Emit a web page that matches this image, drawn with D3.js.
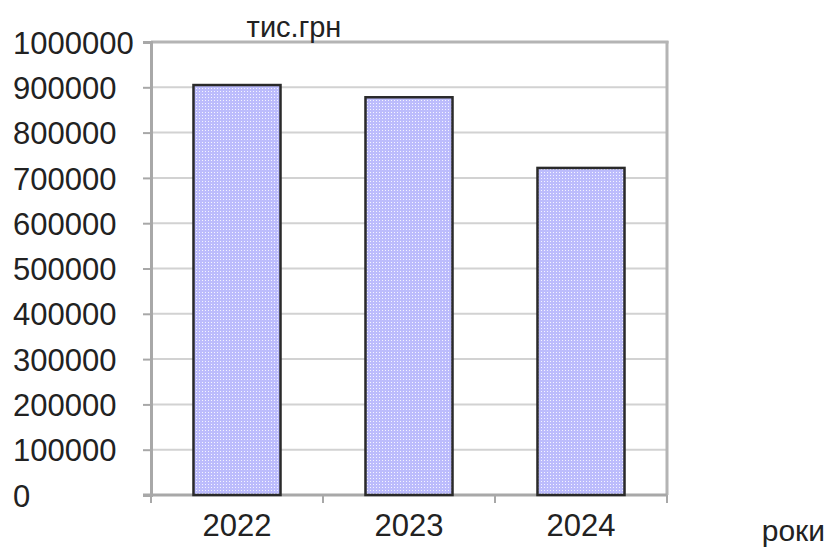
<!DOCTYPE html>
<html>
<head>
<meta charset="utf-8">
<script src="https://cdn.jsdelivr.net/npm/d3@7"></script>
<style>
  html, body { margin: 0; padding: 0; background: #fff; }
  svg { display: block; }
  text { font-family: "Liberation Sans", Arial, sans-serif; fill: #222; }
</style>
</head>
<body>
<svg id="chart" width="827" height="547"></svg>
<script>
// Annual totals, thousand UAH
const years = ["2022", "2023", "2024"];
const totals = [905000, 878000, 722000];
const yTicks = [0, 100000, 200000, 300000, 400000, 500000, 600000, 700000, 800000, 900000, 1000000];
const yUnit = "тис.грн";
const xUnit = "роки";

const svg = d3.select("#chart");
const plotL = 151, plotR = 667, plotT = 42, plotB = 495;

// dotted fill for the bars
const defs = svg.append("defs");
const pat = defs.append("pattern")
  .attr("id", "dots").attr("patternUnits", "userSpaceOnUse")
  .attr("width", 3).attr("height", 3);
pat.append("rect").attr("width", 3).attr("height", 3).attr("fill", "#bcbcfc");
pat.append("rect").attr("x", 1).attr("y", 1).attr("width", 1).attr("height", 1).attr("fill", "#f4f4ff");

const x = d3.scaleBand().domain(years).range([plotL, plotR]).paddingInner(0.494).paddingOuter(0.247);
const y = d3.scaleLinear().domain([0, 1000000]).range([plotB, plotT]);

// horizontal grid
svg.append("g").selectAll("line").data(yTicks.filter(d => d > 0)).join("line")
  .attr("x1", plotL).attr("x2", plotR)
  .attr("y1", d => y(d)).attr("y2", d => y(d))
  .attr("stroke", "#d2d2d2").attr("stroke-width", 2);

// top and right border
svg.append("line").attr("x1", plotR).attr("x2", plotR).attr("y1", plotT - 1).attr("y2", plotB)
  .attr("stroke", "#b4b4b4").attr("stroke-width", 3);
svg.append("line").attr("x1", plotL).attr("x2", plotR + 1.5).attr("y1", plotT).attr("y2", plotT)
  .attr("stroke", "#b4b4b4").attr("stroke-width", 3);

// y axis, labels flush left
const yAxis = d3.axisLeft(y).tickValues(yTicks).tickSize(8).tickFormat(d3.format("d"));
const gy = svg.append("g").attr("transform", `translate(${plotL},0)`).call(yAxis);
gy.select(".domain").attr("stroke", "#a8a8a8").attr("stroke-width", 3);
gy.selectAll(".tick line").attr("stroke", "#a8a8a8").attr("stroke-width", 2);
gy.selectAll(".tick text").style("font-size", "31px").attr("fill", "#222")
  .attr("text-anchor", "start").attr("x", 13 - plotL).attr("dy", "0.36em");

// x axis: ticks on category boundaries
const gx = svg.append("g").attr("transform", `translate(0,${plotB})`);
gx.append("line").attr("x1", plotL - 8).attr("x2", plotR).attr("stroke", "#a8a8a8").attr("stroke-width", 3);
const bounds = [plotL].concat(years.map(d => x(d) + x.bandwidth() / 2 + x.step() / 2));
gx.selectAll("line.tk").data(bounds).join("line").attr("class", "tk")
  .attr("x1", d => d).attr("x2", d => d).attr("y1", 0).attr("y2", 8)
  .attr("stroke", "#a8a8a8").attr("stroke-width", 2);
gx.selectAll("text").data(years).join("text")
  .attr("x", d => x(d) + x.bandwidth() / 2).attr("y", 41)
  .attr("text-anchor", "middle").style("font-size", "31px").text(d => d);

// bars
svg.append("g").selectAll("rect").data(years.map((d, i) => ({ year: d, v: totals[i] }))).join("rect")
  .attr("x", d => x(d.year)).attr("width", x.bandwidth())
  .attr("y", d => y(d.v)).attr("height", d => y(0) - y(d.v))
  .attr("fill", "url(#dots)").attr("stroke", "#2a2a2a").attr("stroke-width", 2.5);

// unit labels
svg.append("text").attr("x", 294).attr("y", 37).attr("text-anchor", "middle")
  .style("font-size", "29px").text(yUnit);
svg.append("text").attr("x", 825).attr("y", 541).attr("text-anchor", "end")
  .style("font-size", "30px").text(xUnit);
</script>
</body>
</html>
